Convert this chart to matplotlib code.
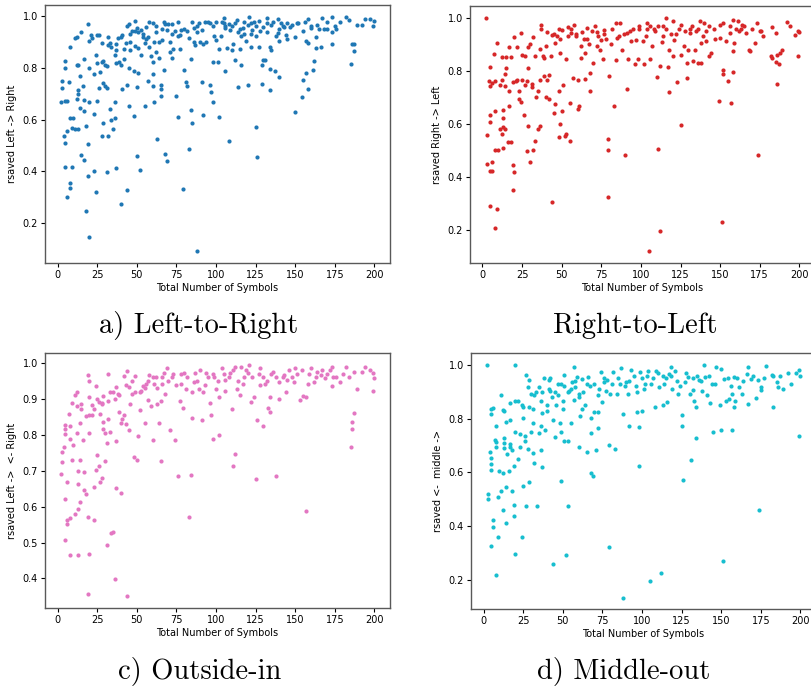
import matplotlib.pyplot as plt
import numpy as np

# Left -> Right (a)
lr_x = [2, 3, 3, 4, 5, 5, 5, 6, 5, 5, 6, 6, 7, 8, 8, 8, 8, 9, 9, 10, 11, 12, 11, 12, 13, 13, 13, 13, 12,
        14, 14, 15, 15, 16, 17, 17, 17, 17, 18, 18, 19, 19, 19, 20, 20, 20, 20, 21, 22, 23, 23, 23, 24, 24,
        25, 25, 25, 26, 26, 27, 28, 28, 28, 29, 29, 29, 30, 30, 31, 31, 31, 32, 32, 32, 33, 33, 34, 34, 35,
        36, 36, 36, 37, 37, 37, 37, 38, 39, 40, 40, 40, 41, 41, 42, 42, 43, 44, 44, 44, 45, 45, 45, 46, 46,
        47, 48, 48, 49, 49, 49, 50, 50, 50, 51, 51, 51, 52, 53, 53, 54, 55, 55, 56, 57, 57, 58, 59, 60, 60,
        60, 60, 61, 61, 62, 62, 63, 64, 65, 65, 65, 66, 66, 67, 67, 68, 68, 69, 69, 70, 71, 71, 72, 72, 73,
        74, 75, 76, 76, 77, 77, 78, 79, 80, 80, 81, 82, 83, 83, 84, 84, 85, 85, 86, 87, 88, 88, 89, 90, 91,
        91, 92, 93, 94, 95, 96, 97, 98, 98, 99, 100, 100, 101, 102, 102, 103, 104, 105, 106, 106, 107, 108,
        108, 109, 110, 111, 112, 113, 114, 114, 115, 116, 117, 118, 119, 120, 121, 122, 122, 123, 124, 125,
        126, 125, 127, 127, 129, 129, 130, 131, 132, 132, 134, 134, 134, 135, 136, 137, 139, 139, 140, 140,
        141, 143, 144, 145, 147, 150, 150, 151, 154, 155, 156, 157, 157, 158, 158, 158, 160, 161, 162, 163,
        163, 164, 166, 167, 170, 173, 173, 173, 176, 178, 182, 184, 185, 186, 187, 187, 189, 192, 194, 197,
        199, 200,
        105, 110, 115, 120, 125, 130, 135, 140, 145, 160, 165, 170, 118, 128, 138, 148, 152, 98, 92, 88, 82,
        76, 72, 64, 58, 54, 46, 56, 62, 112, 122, 132, 142, 155, 168, 175, 116, 106, 96, 86]
lr_y = [0.667, 0.75, 0.72, 0.537, 0.825, 0.80, 0.67, 0.67, 0.508, 0.416, 0.30, 0.556, 0.743, 0.88, 0.607,
        0.355, 0.338, 0.568, 0.416, 0.605, 0.912, 0.918, 0.564, 0.81, 0.81, 0.715, 0.70, 0.564, 0.68, 0.766,
        0.645, 0.935, 0.463, 0.73, 0.832, 0.677, 0.634, 0.446, 0.576, 0.247, 0.966, 0.506, 0.381, 0.903, 0.80,
        0.666, 0.147, 0.927, 0.915, 0.777, 0.62, 0.40, 0.847, 0.323, 0.816, 0.671, 0.925, 0.925, 0.72, 0.782,
        0.895, 0.82, 0.537, 0.824, 0.74, 0.585, 0.81, 0.728, 0.804, 0.72, 0.397, 0.918, 0.886, 0.537, 0.893,
        0.64, 0.88, 0.60, 0.562, 0.85, 0.666, 0.604, 0.89, 0.868, 0.816, 0.414, 0.912, 0.82, 0.918, 0.808,
        0.274, 0.925, 0.718, 0.871, 0.834, 0.893, 0.96, 0.733, 0.327, 0.966, 0.798, 0.653, 0.90, 0.869, 0.94,
        0.785, 0.614, 0.98, 0.94, 0.882, 0.727, 0.46, 0.954, 0.938, 0.876, 0.78, 0.405, 0.944, 0.85, 0.918,
        0.653, 0.896, 0.957, 0.918, 0.75, 0.974, 0.845, 0.97, 0.774, 0.73, 0.82, 0.666, 0.90, 0.935, 0.86,
        0.524, 0.837, 0.733, 0.692, 0.718, 0.905, 0.947, 0.977, 0.789, 0.466, 0.966, 0.44, 0.944, 0.966, 0.86,
        0.90, 0.837, 0.966, 0.873, 0.94, 0.692, 0.974, 0.611, 0.925, 0.871, 0.944, 0.332, 0.789, 0.95, 0.743,
        0.73, 0.915, 0.485, 0.834, 0.638, 0.977, 0.588, 0.954, 0.886, 0.093, 0.938, 0.97, 0.90, 0.746, 0.944,
        0.617, 0.974, 0.90, 0.974, 0.733, 0.705, 0.669, 0.82, 0.922, 0.905, 0.974, 0.82, 0.611, 0.873, 0.921,
        0.977, 0.992, 0.954, 0.785, 0.876, 0.517, 0.966, 0.944, 0.867, 0.889, 0.828, 0.983, 0.727, 0.938,
        0.873, 0.81, 0.954, 0.977, 0.901, 0.733, 0.996, 0.97, 0.88, 0.944, 0.974, 0.571, 0.456, 0.922, 0.88,
        0.98, 0.808, 0.738, 0.83, 0.828, 0.938, 0.992, 0.88, 0.715, 0.793, 0.869, 0.977, 0.785, 0.931, 0.987,
        0.764, 0.901, 0.97, 0.957, 0.925, 0.91, 0.957, 0.63, 0.918, 0.97, 0.685, 0.753, 0.977, 0.779, 0.901,
        0.718, 0.893, 0.987, 0.954, 0.789, 0.824, 0.876, 0.918, 0.963, 0.88, 0.99, 0.948, 0.889, 0.935, 0.996,
        0.948, 0.974, 0.996, 0.983, 0.812, 0.889, 0.863, 0.889, 0.963, 0.963, 0.987, 0.987, 0.96, 0.98,
        0.97, 0.96, 0.95, 0.965, 0.96, 0.955, 0.965, 0.95, 0.97, 0.96, 0.95, 0.975, 0.93, 0.94, 0.92, 0.965,
        0.97, 0.96, 0.89, 0.96, 0.94, 0.92, 0.93, 0.90, 0.88, 0.93, 0.93, 0.91, 0.96, 0.97, 0.93, 0.97, 0.96,
        0.94, 0.95, 0.96, 0.92, 0.96, 0.97, 0.90]

# Right -> Left (b)
rl_x = [2, 3, 3, 4, 5, 5, 5, 5, 5, 5, 6, 6, 6, 7, 8, 8, 8, 8, 9, 9, 10, 11, 11, 12, 12, 12, 13, 13, 13, 13,
        14, 14, 14, 15, 15, 16, 17, 17, 17, 18, 18, 19, 19, 19, 20, 20, 21, 22, 22, 23, 23, 24, 24, 25, 25,
        26, 27, 27, 28, 28, 29, 29, 29, 30, 30, 31, 31, 32, 32, 33, 33, 34, 35, 35, 36, 36, 36, 37, 37, 38,
        39, 39, 40, 40, 41, 41, 42, 42, 43, 44, 44, 45, 46, 46, 47, 48, 48, 48, 49, 49, 50, 50, 51, 52, 53,
        53, 54, 55, 55, 56, 57, 58, 59, 60, 60, 61, 62, 62, 63, 65, 65, 66, 67, 68, 68, 70, 71, 72, 72, 74,
        75, 76, 77, 78, 79, 79, 79, 80, 81, 83, 84, 84, 85, 87, 88, 90, 91, 91, 92, 94, 96, 97, 98, 99, 101,
        102, 103, 104, 105, 106, 107, 108, 110, 111, 112, 112, 113, 114, 116, 117, 118, 118, 120, 120, 121,
        123, 125, 125, 125, 127, 129, 129, 130, 131, 133, 134, 136, 137, 138, 138, 140, 141, 143, 143, 144,
        147, 149, 150, 150, 151, 152, 152, 154, 155, 156, 157, 158, 158, 158, 159, 161, 162, 164, 166, 168,
        169, 172, 173, 174, 175, 177, 182, 183, 183, 185, 185, 186, 186, 187, 188, 189, 192, 194, 197, 199,
        199, 200,
        104, 109, 114, 119, 124, 128, 132, 136, 141, 146, 152, 160, 165, 170, 176, 99, 93, 86, 82, 77, 73,
        69, 64, 59, 54, 49, 45, 56, 66, 89, 111, 116, 122, 131, 135, 139, 156, 163, 106, 95]
rl_y = [1.0, 0.556, 0.448, 0.76, 0.815, 0.744, 0.632, 0.608, 0.423, 0.29, 0.754, 0.454, 0.42, 0.864, 0.76,
        0.648, 0.50, 0.207, 0.905, 0.279, 0.50, 0.748, 0.582, 0.851, 0.767, 0.561, 0.651, 0.62, 0.587, 0.509,
        0.788, 0.744, 0.58, 0.851, 0.811, 0.533, 0.889, 0.723, 0.669, 0.851, 0.53, 0.757, 0.443, 0.351, 0.927,
        0.418, 0.76, 0.889, 0.767, 0.725, 0.694, 0.943, 0.682, 0.859, 0.767, 0.635, 0.858, 0.748, 0.76, 0.496,
        0.889, 0.81, 0.593, 0.902, 0.454, 0.752, 0.739, 0.927, 0.502, 0.858, 0.534, 0.70, 0.725, 0.58, 0.883,
        0.767, 0.59, 0.975, 0.958, 0.855, 0.849, 0.78, 0.893, 0.70, 0.948, 0.767, 0.694, 0.786, 0.855, 0.937,
        0.303, 0.641, 0.905, 0.676, 0.931, 0.96, 0.723, 0.55, 0.868, 0.60, 0.647, 0.956, 0.747, 0.555, 0.843,
        0.561, 0.965, 0.679, 0.534, 0.943, 0.773, 0.975, 0.931, 0.767, 0.654, 0.666, 0.893, 0.849, 0.946,
        0.769, 0.868, 0.962, 0.903, 0.79, 0.723, 0.83, 0.971, 0.893, 0.946, 0.878, 0.918, 0.845, 0.956, 0.921,
        0.543, 0.502, 0.323, 0.78, 0.90, 0.666, 0.84, 0.979, 0.924, 0.979, 0.88, 0.483, 0.732, 0.943, 0.845,
        0.912, 0.824, 0.918, 0.843, 0.971, 0.912, 0.824, 0.931, 0.979, 0.118, 0.845, 0.893, 0.958, 0.777,
        0.506, 0.817, 0.195, 0.908, 0.931, 1.0, 0.814, 0.72, 0.88, 0.855, 0.987, 0.918, 0.757, 0.594, 0.861,
        0.975, 0.893, 0.83, 0.773, 0.88, 0.943, 0.836, 0.88, 0.83, 0.987, 0.905, 0.83, 0.979, 0.912, 0.968,
        0.858, 0.868, 0.921, 0.685, 0.924, 0.975, 0.228, 0.805, 0.788, 0.912, 0.76, 0.943, 0.679, 0.795,
        0.874, 0.994, 0.905, 0.987, 0.95, 0.975, 0.943, 0.88, 0.874, 0.905, 0.979, 0.483, 0.95, 0.933, 0.855,
        0.849, 0.966, 0.943, 0.832, 0.75, 0.861, 0.826, 0.868, 0.88, 0.985, 0.968, 0.937, 0.858, 0.95, 0.946,
        0.96, 0.95, 0.97, 0.94, 0.96, 0.95, 0.97, 0.96, 0.95, 0.96, 0.98, 0.96, 0.97, 0.96, 0.95, 0.96, 0.95,
        0.93, 0.96, 0.94, 0.93, 0.95, 0.92, 0.94, 0.93, 0.92, 0.94, 0.96, 0.92, 0.94, 0.97, 0.96, 0.94, 0.96,
        0.95, 0.93, 0.97, 0.96, 0.97, 0.96]

# Left ->  <- Right (c)
oi_x = [2, 3, 3, 4, 5, 5, 5, 5, 5, 6, 6, 6, 7, 8, 8, 8, 8, 9, 9, 10, 11, 11, 12, 12, 12, 13, 13, 13, 13, 14,
        14, 14, 15, 15, 16, 17, 17, 18, 18, 19, 19, 19, 20, 20, 20, 20, 20, 22, 22, 23, 23, 23, 24, 24, 25,
        25, 26, 26, 27, 27, 28, 28, 29, 29, 29, 30, 30, 31, 31, 32, 32, 32, 33, 34, 35, 35, 36, 36, 37, 37,
        37, 38, 39, 40, 40, 41, 42, 42, 43, 44, 44, 45, 45, 46, 47, 48, 49, 49, 50, 51, 52, 53, 54, 55, 56,
        57, 58, 59, 60, 61, 62, 63, 64, 65, 65, 66, 67, 68, 69, 71, 72, 74, 76, 77, 78, 79, 80, 81, 83, 84,
        85, 86, 87, 89, 91, 92, 94, 96, 97, 98, 99, 100, 102, 102, 104, 106, 106, 109, 110, 111, 112, 112,
        113, 115, 116, 117, 120, 121, 122, 124, 125, 126, 128, 128, 130, 131, 133, 134, 134, 136, 138, 140,
        140, 143, 144, 145, 149, 150, 153, 155, 157, 157, 158, 160, 162, 164, 166, 169, 172, 173, 173, 176,
        178, 182, 184, 185, 186, 186, 187, 187, 189, 192, 194, 197, 199, 199, 200,
        52, 55, 57, 60, 63, 66, 70, 73, 75, 78, 82, 85, 88, 90, 93, 95, 98, 101, 105, 108, 111, 114, 118,
        119, 123, 127, 130, 132, 135, 138, 142, 146, 148, 151, 154, 159, 163, 167, 170, 174, 180, 47, 43,
        39, 33, 28]
oi_y = [0.69, 0.751, 0.724, 0.767, 0.827, 0.803, 0.817, 0.62, 0.506, 0.669, 0.564, 0.551, 0.858, 0.825,
        0.787, 0.568, 0.465, 0.89, 0.731, 0.771, 0.58, 0.911, 0.918, 0.879, 0.805, 0.70, 0.664, 0.592, 0.465,
        0.834, 0.731, 0.614, 0.885, 0.871, 0.786, 0.697, 0.645, 0.853, 0.636, 0.966, 0.571, 0.356, 0.95,
        0.904, 0.854, 0.806, 0.468, 0.856, 0.883, 0.871, 0.655, 0.564, 0.937, 0.703, 0.899, 0.744, 0.892,
        0.714, 0.858, 0.669, 0.885, 0.681, 0.909, 0.837, 0.816, 0.805, 0.727, 0.778, 0.492, 0.895, 0.969,
        0.845, 0.808, 0.527, 0.53, 0.918, 0.399, 0.899, 0.653, 0.784, 0.933, 0.914, 0.863, 0.832, 0.638,
        0.845, 0.856, 0.964, 0.829, 0.978, 0.35, 0.813, 0.933, 0.885, 0.914, 0.739, 0.964, 0.918, 0.73,
        0.796, 0.868, 0.923, 0.935, 0.834, 0.941, 0.896, 0.968, 0.88, 0.786, 0.942, 0.962, 0.885, 0.834,
        0.727, 0.895, 0.942, 0.971, 0.914, 0.986, 0.813, 0.962, 0.786, 0.686, 0.895, 0.942, 0.875, 0.971,
        0.928, 0.571, 0.689, 0.848, 0.947, 0.971, 0.928, 0.84, 0.918, 0.971, 0.89, 0.856, 0.787, 0.962,
        0.928, 0.799, 0.906, 0.986, 0.952, 0.923, 0.971, 0.873, 0.714, 0.746, 0.99, 0.928, 0.912, 0.99,
        0.942, 0.971, 0.995, 0.891, 0.904, 0.676, 0.842, 0.938, 0.986, 0.825, 0.942, 0.875, 0.863, 0.904,
        0.976, 0.684, 0.947, 0.899, 0.966, 0.918, 0.952, 0.947, 0.986, 0.896, 0.909, 0.588, 0.904, 0.942,
        0.986, 0.947, 0.976, 0.966, 0.957, 0.981, 0.937, 0.99, 0.962, 0.947, 0.99, 0.962, 0.765, 0.837,
        0.816, 0.861, 0.976, 0.928, 0.976, 0.99, 0.981, 0.971, 0.921, 0.957,
        0.92, 0.93, 0.95, 0.96, 0.93, 0.96, 0.95, 0.97, 0.94, 0.97, 0.96, 0.92, 0.95, 0.98, 0.94, 0.96,
        0.97, 0.95, 0.97, 0.96, 0.98, 0.95, 0.96, 0.98, 0.96, 0.97, 0.96, 0.95, 0.97, 0.96, 0.96, 0.98,
        0.96, 0.97, 0.98, 0.97, 0.96, 0.98, 0.97, 0.96, 0.97, 0.95, 0.94, 0.91, 0.92, 0.89]

# <-  middle -> (d)
mo_x = [2, 3, 3, 4, 5, 5, 5, 5, 5, 5, 6, 6, 6, 7, 8, 8, 8, 8, 9, 9, 10, 11, 11, 12, 12, 12, 13, 13, 13, 13,
        14, 14, 14, 15, 16, 17, 17, 17, 17, 18, 18, 19, 19, 19, 20, 20, 20, 20, 22, 22, 23, 23, 24, 24, 25,
        25, 25, 26, 26, 27, 27, 28, 28, 29, 29, 29, 30, 30, 31, 31, 31, 32, 32, 33, 34, 35, 35, 36, 36, 36,
        37, 37, 37, 38, 39, 40, 40, 41, 42, 42, 43, 44, 44, 45, 45, 46, 47, 48, 49, 49, 49, 50, 50, 51, 51,
        52, 53, 53, 54, 55, 56, 57, 57, 58, 59, 60, 60, 61, 62, 62, 64, 65, 65, 66, 68, 68, 68, 69, 70, 71,
        72, 72, 72, 74, 75, 76, 77, 78, 79, 79, 80, 82, 83, 84, 87, 88, 88, 90, 91, 92, 93, 96, 97, 98, 98,
        99, 100, 101, 102, 104, 105, 107, 108, 109, 111, 112, 113, 114, 116, 117, 118, 119, 121, 123, 125,
        125, 126, 127, 129, 130, 131, 132, 133, 134, 134, 136, 138, 139, 140, 141, 143, 144, 145, 147, 149,
        150, 150, 151, 152, 153, 155, 157, 157, 158, 158, 159, 161, 163, 166, 167, 167, 169, 172, 173, 174,
        175, 175, 178, 182, 183, 183, 185, 186, 187, 189, 192, 194, 197, 199, 199, 200,
        47, 51, 55, 58, 63, 67, 70, 73, 76, 81, 85, 89, 92, 95, 97, 100, 103, 106, 110, 115, 118, 122,
        124, 128, 132, 135, 137, 142, 146, 154, 156, 160, 164, 170, 177, 60, 53, 41, 86, 113]
mo_y = [1.0, 0.518, 0.499, 0.675, 0.836, 0.818, 0.653, 0.63, 0.61, 0.325, 0.839, 0.421, 0.398, 0.721, 0.771,
        0.712, 0.696, 0.219, 0.508, 0.359, 0.603, 0.886, 0.532, 0.833, 0.597, 0.46, 0.828, 0.727, 0.709, 0.691,
        0.789, 0.545, 0.412, 0.669, 0.604, 0.857, 0.793, 0.706, 0.696, 0.684, 0.529, 0.625, 0.477, 0.436, 1.0,
        0.867, 0.749, 0.294, 0.864, 0.65, 0.743, 0.696, 0.359, 0.849, 0.802, 0.549, 0.843, 0.737, 0.715, 0.964,
        0.474, 0.687, 0.917, 0.942, 0.845, 0.563, 0.892, 0.749, 0.836, 0.671, 0.783, 0.634, 0.886, 0.898, 0.474,
        0.919, 0.746, 0.867, 0.774, 0.684, 0.898, 0.619, 0.82, 0.95, 0.756, 0.83, 0.849, 0.944, 0.904, 0.95,
        0.88, 0.26, 0.793, 0.731, 0.898, 0.849, 0.888, 0.784, 0.929, 0.567, 0.749, 0.834, 0.867, 0.718, 0.964,
        0.291, 0.474, 0.718, 0.904, 0.783, 0.935, 0.991, 0.87, 0.917, 0.954, 0.694, 0.892, 0.811, 0.948, 0.836,
        0.851, 0.675, 0.929, 0.954, 0.746, 0.802, 0.597, 0.588, 0.824, 0.684, 0.766, 0.824, 0.888, 0.975, 0.861,
        0.935, 0.904, 0.942, 0.702, 0.322, 0.892, 0.973, 0.687, 0.892, 0.988, 0.818, 0.133, 0.935, 0.892, 0.774,
        0.981, 0.923, 0.824, 0.768, 0.622, 0.973, 0.828, 0.911, 0.929, 0.979, 0.197, 0.952, 0.842, 0.979, 0.917,
        0.225, 0.849, 0.929, 0.861, 0.967, 0.991, 0.911, 0.979, 0.892, 0.815, 0.774, 0.573, 0.935, 0.954, 0.892,
        0.647, 0.907, 0.867, 0.728, 0.845, 0.944, 0.902, 1.0, 0.954, 0.886, 0.857, 0.929, 0.749, 0.991, 0.849,
        0.758, 0.985, 0.269, 0.948, 0.867, 0.873, 0.758, 0.892, 0.843, 0.954, 0.865, 0.917, 0.892, 0.967, 0.855,
        0.991, 0.948, 0.877, 0.942, 0.458, 0.907, 0.919, 0.994, 0.964, 0.842, 0.96, 0.935, 0.917, 0.957, 0.911,
        0.97, 0.929, 0.97, 0.981, 0.737, 0.96,
        0.93, 0.92, 0.91, 0.94, 0.90, 0.92, 0.93, 0.91, 0.95, 0.93, 0.95, 0.92, 0.94, 0.96, 0.90, 0.95,
        0.96, 0.93, 0.97, 0.95, 0.96, 0.94, 0.92, 0.97, 0.95, 0.96, 0.94, 0.96, 0.93, 0.95, 0.92, 0.95,
        0.94, 0.96, 0.95, 0.88, 0.90, 0.91, 0.93, 0.96]

panels = [
    (lr_x, lr_y, 'tab:blue', 'rsaved Left -> Right'),
    (rl_x, rl_y, 'tab:red', 'rsaved Right -> Left'),
    (oi_x, oi_y, 'tab:pink', 'rsaved Left ->  <- Right'),
    (mo_x, mo_y, 'tab:cyan', 'rsaved <-  middle ->'),
]
captions = ['a) Left-to-Right', 'Right-to-Left', 'c) Outside-in', 'd) Middle-out']

# axes positions in figure fractions (left, bottom, width, height)
boxes = [
    [0.0555, 0.621, 0.4255, 0.372],
    [0.5795, 0.621, 0.4255, 0.370],
    [0.0555, 0.124, 0.4255, 0.367],
    [0.5808, 0.122, 0.4255, 0.369],
]
cap_pos = [(199 / 811, 1 - 326 / 694), (635 / 811, 1 - 326 / 694),
           (200 / 811, 1 - 672 / 694), (624 / 811, 1 - 672 / 694)]

fig = plt.figure(figsize=(8.11, 6.94), dpi=100)

for (xs, ys, col, ylab), box in zip(panels, boxes):
    ax = fig.add_axes(box)
    ax.scatter(xs, ys, s=9, color=col, linewidths=0)
    ax.set_xticks(np.arange(0, 201, 25))
    ax.set_xlabel('Total Number of Symbols', fontsize=7, labelpad=2)
    ax.set_ylabel(ylab, fontsize=7, labelpad=4)
    ax.tick_params(labelsize=7, length=3, width=0.8, pad=2)
    for sp in ax.spines.values():
        sp.set_color('0.35')
        sp.set_linewidth(1.0)

for txt, (cx, cy) in zip(captions, cap_pos):
    fig.text(cx, cy, txt, ha='center', va='center', fontsize=20.5, family='cmr10')

plt.savefig('out.png', dpi=100)
